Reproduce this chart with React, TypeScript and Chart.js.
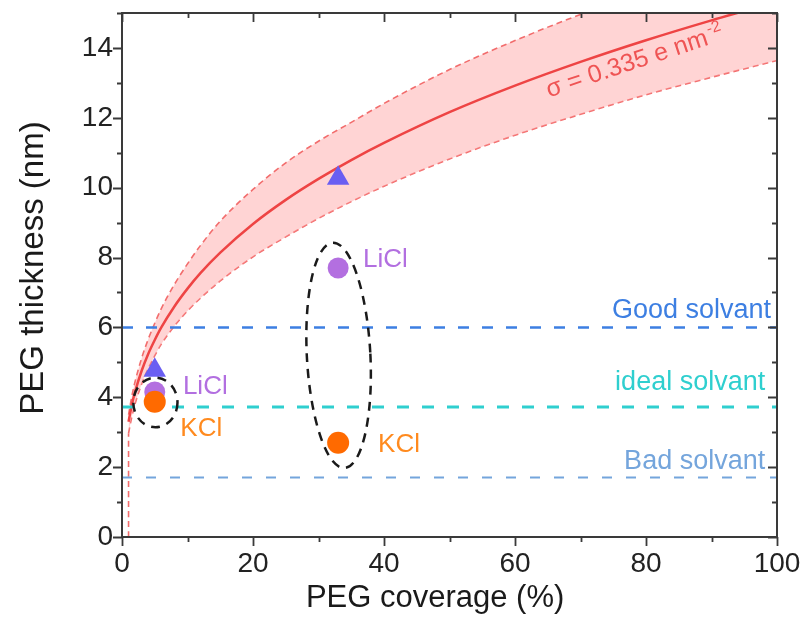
import { useEffect, useRef } from "react";
import { Chart, registerables } from "chart.js";

Chart.register(...registerables);

// Brush model: PEG thickness (nm) against PEG coverage (%), with its uncertainty band
const modelCoverage = [1, 1.5, 2, 3, 4, 5, 6, 8, 10, 12, 15, 20, 25, 30, 35, 40, 50, 60, 70, 80, 90, 100];
const modelThickness = [3.3, 3.78, 4.16, 4.76, 5.24, 5.64, 6.0, 6.6, 7.11, 7.56, 8.14, 8.96, 9.65, 10.25, 10.79, 11.28, 12.16, 12.92, 13.6, 14.22, 14.79, 15.32];
const upperThickness = [3.5, 4.03, 4.45, 5.12, 5.66, 6.12, 6.54, 7.23, 7.82, 8.35, 9.04, 9.95, 10.71, 11.33, 11.87, 12.41, 13.38, 14.21, 14.96, 15.64, 16.27, 16.85];
const lowerThickness = [2.97, 3.44, 3.81, 4.38, 4.82, 5.19, 5.52, 6.04, 6.47, 6.84, 7.33, 8.02, 8.59, 9.12, 9.6, 10.04, 10.82, 11.5, 12.1, 12.66, 13.16, 13.64];
const lowerEdgeCoverage = [1, 1];
const lowerEdgeThickness = [0, 2.97];

// Measured samples
const sampleCoverage = [5, 33];
const noSaltThickness = [4.77, 10.27];
const liclThickness = [4.15, 7.7];
const kclThickness = [3.87, 2.7];

// Solvent-quality reference thicknesses
const solventNames = ["Good solvant", "ideal solvant", "Bad solvant"];
const solventThickness = [6.0, 3.72, 1.7];

const xTickValues = [0, 20, 40, 60, 80, 100];
const yTickValues = [0, 2, 4, 6, 8, 10, 12, 14];

const FONT = "'Liberation Sans', Arial, Helvetica, sans-serif";
const pts = (xs: number[], ys: number[]) => xs.map((x, i) => ({ x, y: ys[i] }));

const solventStyles = [
  { color: "#3d7fe2", width: 2.5, dash: [11, 13], textOffset: 9, textRight: 99.1 },
  { color: "#2fcfcf", width: 3, dash: [12, 13], textOffset: 17, textRight: 98.2 },
  { color: "#74a5dc", width: 2, dash: [10, 14], textOffset: 9, textRight: 98.2 },
];

const annotations = {
  id: "annotations",
  afterDatasetsDraw(chart: any) {
    const { ctx } = chart;
    const xs = chart.scales.x;
    const ys = chart.scales.y;
    const px = (v: number) => xs.getPixelForValue(v);
    const py = (v: number) => ys.getPixelForValue(v);
    const ppx = (d: number) => Math.abs(px(d) - px(0));
    const ppy = (d: number) => Math.abs(py(d) - py(0));

    ctx.save();
    // dashed groupings around the salt series
    ctx.strokeStyle = "#1a1a1a";
    ctx.lineWidth = 2.5;
    ctx.setLineDash([9, 7]);
    const groups = [
      { x: 5.1, y: 3.85, rx: 3.37, ry: 0.71, rot: 0 },
      { x: 33.07, y: 5.2, rx: 4.85, ry: 3.23, rot: -3 },
    ];
    for (const g of groups) {
      ctx.beginPath();
      ctx.ellipse(px(g.x), py(g.y), ppx(g.rx), ppy(g.ry), (g.rot * Math.PI) / 180, 0, Math.PI * 2);
      ctx.stroke();
    }
    ctx.setLineDash([]);

    // salt labels
    ctx.font = `26px ${FONT}`;
    ctx.textBaseline = "middle";
    ctx.textAlign = "left";
    const saltLabels = [
      { t: "LiCl", x: 9.3, y: 4.3, c: "#b26fe0" },
      { t: "KCl", x: 8.9, y: 3.1, c: "#ff8a1e" },
      { t: "LiCl", x: 36.8, y: 7.94, c: "#b26fe0" },
      { t: "KCl", x: 39.1, y: 2.64, c: "#ff8a1e" },
    ];
    for (const s of saltLabels) {
      ctx.fillStyle = s.c;
      ctx.fillText(s.t, px(s.x), py(s.y));
    }

    // solvent labels
    ctx.font = `27px ${FONT}`;
    ctx.textAlign = "right";
    ctx.textBaseline = "alphabetic";
    solventNames.forEach((name, i) => {
      const st = solventStyles[i];
      ctx.fillStyle = st.color;
      ctx.fillText(name, px(st.textRight), py(solventThickness[i]) - st.textOffset);
    });

    // grafting density label along the model curve
    ctx.save();
    ctx.translate(px(65.2), py(12.58));
    ctx.rotate((-18.3 * Math.PI) / 180);
    ctx.fillStyle = "#ef5454";
    ctx.textAlign = "left";
    ctx.font = `25px ${FONT}`;
    const main = "\u03c3 = 0.335 e nm";
    ctx.fillText(main, 0, 0);
    const w = ctx.measureText(main).width;
    ctx.font = `16px ${FONT}`;
    ctx.fillText("-2", w + 2, -10);
    ctx.restore();

    ctx.restore();
  },
  afterDraw(chart: any) {
    const { ctx, chartArea } = chart;
    const { left, right, top, bottom } = chartArea;
    const xs = chart.scales.x;
    const ys = chart.scales.y;
    ctx.save();
    // frame with inward ticks on top/right, outward on bottom/left
    ctx.strokeStyle = "#3a3a3a";
    ctx.lineWidth = 2;
    ctx.strokeRect(left, top, right - left, bottom - top);
    ctx.lineWidth = 1.8;
    ctx.beginPath();
    for (let v = 0; v <= 100; v += 10) {
      const x = Math.round(xs.getPixelForValue(v)) + 0.5;
      const len = v % 20 === 0 ? 9 : 5;
      ctx.moveTo(x, bottom);
      ctx.lineTo(x, bottom + len);
      ctx.moveTo(x, top);
      ctx.lineTo(x, top + len);
    }
    for (let v = 0; v <= 15; v += 1) {
      const y = Math.round(ys.getPixelForValue(v)) + 0.5;
      const len = v % 2 === 0 ? 9 : 5;
      ctx.moveTo(left, y);
      ctx.lineTo(left - len, y);
      ctx.moveTo(right, y);
      ctx.lineTo(right - len, y);
    }
    ctx.stroke();

    // axis titles
    ctx.fillStyle = "#1a1a1a";
    ctx.textAlign = "center";
    ctx.textBaseline = "middle";
    ctx.font = `31px ${FONT}`;
    ctx.fillText("PEG coverage (%)", xs.getPixelForValue(47.8), 598);
    ctx.save();
    ctx.translate(34, ys.getPixelForValue(7.7));
    ctx.rotate(-Math.PI / 2);
    ctx.font = `33px ${FONT}`;
    ctx.fillText("PEG thickness (nm)", 0, 0);
    ctx.restore();
    ctx.restore();
  },
};

export default function App() {
  const canvasRef = useRef<HTMLCanvasElement | null>(null);

  useEffect(() => {
    const canvas = canvasRef.current;
    if (!canvas) return;

    const bandLine = {
      type: "scatter" as const,
      showLine: true,
      pointRadius: 0,
      borderColor: "#f26d6d",
      borderWidth: 1.6,
      borderDash: [6, 4],
      cubicInterpolationMode: "monotone" as const,
    };

    const chart = new Chart(canvas, {
      type: "scatter",
      data: {
        datasets: [
          {
            ...bandLine,
            label: "upper",
            data: pts(modelCoverage, upperThickness),
            fill: "+1",
            backgroundColor: "rgba(255, 160, 160, 0.45)",
            order: 20,
          },
          {
            ...bandLine,
            label: "lower",
            data: pts(modelCoverage, lowerThickness),
            fill: false,
            order: 21,
          },
          {
            ...bandLine,
            label: "lower edge",
            data: pts(lowerEdgeCoverage, lowerEdgeThickness),
            fill: false,
            order: 22,
          },
          {
            type: "scatter",
            label: "model",
            data: pts(modelCoverage, modelThickness),
            showLine: true,
            pointRadius: 0,
            borderColor: "#ee4444",
            borderWidth: 2.5,
            cubicInterpolationMode: "monotone",
            fill: false,
            order: 15,
          },
          ...solventNames.map((name, i) => ({
            type: "scatter" as const,
            label: name,
            data: pts([0, 100], [solventThickness[i], solventThickness[i]]),
            showLine: true,
            pointRadius: 0,
            borderColor: solventStyles[i].color,
            borderWidth: solventStyles[i].width,
            borderDash: solventStyles[i].dash,
            fill: false,
            order: 10,
          })),
          {
            type: "scatter",
            label: "no salt",
            data: pts(sampleCoverage, noSaltThickness),
            pointStyle: "triangle",
            pointRadius: 13,
            backgroundColor: "#6a5ef2",
            borderColor: "#6a5ef2",
            borderWidth: 0,
            order: 2,
          },
          {
            type: "scatter",
            label: "LiCl",
            data: pts(sampleCoverage, liclThickness),
            pointStyle: "circle",
            pointRadius: 10.5,
            backgroundColor: "#b36fe0",
            borderWidth: 0,
            order: 1,
          },
          {
            type: "scatter",
            label: "KCl",
            data: pts(sampleCoverage, kclThickness),
            pointStyle: "circle",
            pointRadius: 11,
            backgroundColor: "#ff6a00",
            borderWidth: 0,
            order: 0,
          },
        ],
      },
      options: {
        animation: false,
        responsive: true,
        maintainAspectRatio: false,
        layout: { padding: { left: 0, right: 24, top: 10, bottom: 0 } },
        plugins: {
          legend: { display: false },
          tooltip: { enabled: false },
        },
        scales: {
          x: {
            type: "linear",
            min: 0,
            max: 100,
            afterBuildTicks: (scale: any) => {
              scale.ticks = xTickValues.map((value) => ({ value }));
            },
            afterFit: (scale: any) => {
              scale.height = 99;
              scale.paddingLeft = 0;
              scale.paddingRight = 0;
            },
            grid: { display: false, drawTicks: false },
            border: { display: false },
            ticks: {
              padding: 10,
              color: "#222",
              font: { family: FONT, size: 28 },
              maxRotation: 0,
            },
          },
          y: {
            type: "linear",
            min: 0,
            max: 15,
            afterBuildTicks: (scale: any) => {
              scale.ticks = yTickValues.map((value) => ({ value }));
            },
            afterFit: (scale: any) => {
              scale.width = 122;
              scale.paddingTop = 0;
              scale.paddingBottom = 0;
            },
            grid: { display: false, drawTicks: false },
            border: { display: false },
            ticks: {
              padding: 9,
              color: "#222",
              font: { family: FONT, size: 28 },
            },
          },
        },
      },
      plugins: [annotations],
    } as any);

    return () => chart.destroy();
  }, []);

  return (
    <div style={{ position: "fixed", left: 0, top: 0, width: 801, height: 636, background: "#fff" }}>
      <canvas ref={canvasRef} />
    </div>
  );
}
